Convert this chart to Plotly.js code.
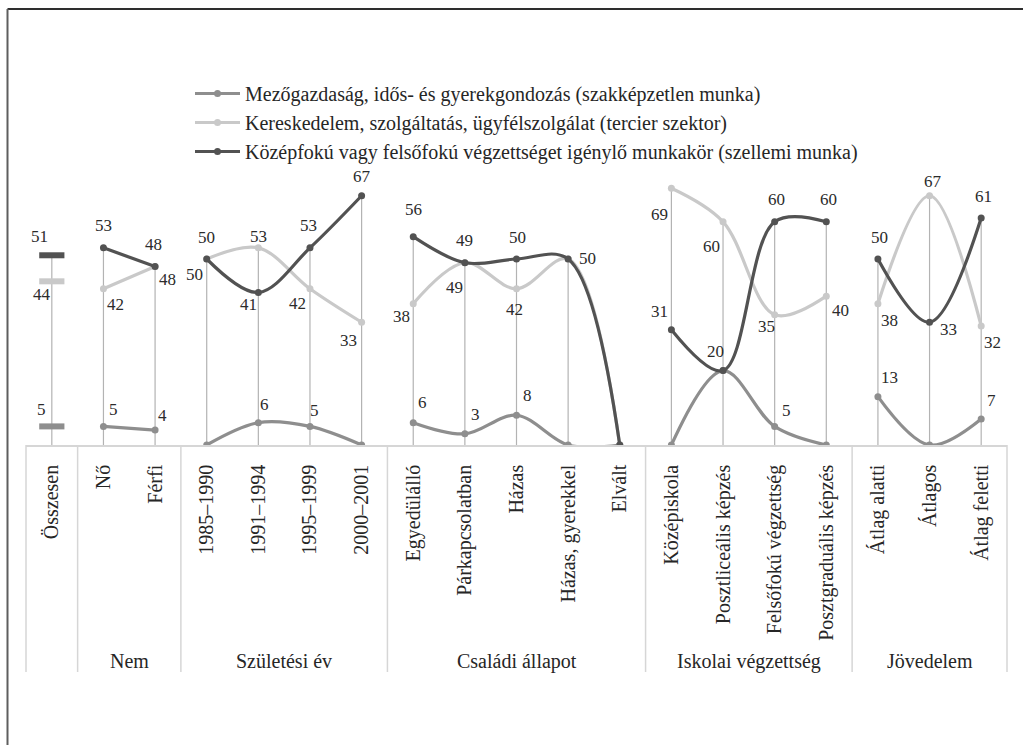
<!DOCTYPE html>
<html>
<head>
<meta charset="utf-8">
<script src="https://cdn.plot.ly/plotly-3.0.1.min.js"></script>
<style>html,body{margin:0;padding:0;background:#fff;}#chart{width:1023px;height:745px;}</style>
</head>
<body>
<div id="chart"></div>
<script>
// ---- data ----
const categories = ['Összesen','Nő','Férfi','1985–1990','1991–1994','1995–1999','2000–2001',
  'Egyedülálló','Párkapcsolatban','Házas','Házas, gyerekkel','Elvált',
  'Középiskola','Posztliceális képzés','Felsőfokú végzettség','Posztgraduális képzés',
  'Átlag alatti','Átlagos','Átlag feletti'];
const groupNames = ['', 'Nem', 'Születési év', 'Családi állapot', 'Iskolai végzettség', 'Jövedelem'];
const groupSizes = [1, 2, 4, 5, 4, 3];
const seriesNames = ['Mezőgazdaság, idős- és gyerekgondozás (szakképzetlen munka)',
  'Kereskedelem, szolgáltatás, ügyfélszolgálat (tercier szektor)',
  'Középfokú vagy felsőfokú végzettséget igénylő munkakör (szellemi munka)'];
const mezo = [5, 5, 4, 0, 6, 5, 0, 6, 3, 8, 0, 0, 0, 20, 5, 0, 13, 0, 7];
const ker  = [44, 42, 48, 50, 53, 42, 33, 38, 49, 42, 50, 0, 69, 60, 35, 40, 38, 67, 32];
const koz  = [51, 53, 48, 50, 41, 53, 67, 56, 49, 50, 50, 0, 31, 20, 60, 60, 50, 33, 61];

// ---- styles (label offsets in px: [dx, dy], null = no label) ----
const mezoLab = [[-10,-17],[10,-17],[7,-15],null,[6,-18],[5,-16],null,[9,-20],[11,-19],[11,-20],null,null,null,null,[12,-16],null,[12,-19],null,[10,-18]];
const kerLab  = [[-10,13],[12,16],[12,13],[0,-22],[0,-11],[-12,15],[-13,18],[-12,13],[-10,25],[-2,21],null,null,[-12,26],[-12,25],[-8,12],[14,14],[12,17],[3,-14],[11,17]];
const kozLab  = [[-12,-19],[0,-22],[-2,-22],[-12,15],[-10,12],[-1,-22],[0,-19],[0,-27],[0,-22],[1,-22],[19,-1],null,[-12,-18],[-8,-19],[2,-22],[2,-22],[2,-22],[19,7],[2,-22]];
const colors = ['#8e8e8e', '#c9c9c9', '#525252'];
const FONT_FAMILY = 'Times New Roman';

const allSeries = [mezo, ker, koz];
const allLabs = [mezoLab, kerLab, kozLab];

const starts = [];
let acc = 0;
groupSizes.forEach(s => { starts.push(acc); acc += s; });

const traces = [];
const dx = [], dy = [];
categories.forEach((c, i) => {
  const m = Math.max(mezo[i], ker[i], koz[i]);
  if (m > 0) { dx.push(i, i, null); dy.push(m, 0, null); }
});
traces.push({x: dx, y: dy, mode: 'lines', line: {color: '#b3b3b3', width: 1.2}, hoverinfo: 'skip', showlegend: false});

allSeries.forEach((vals, s) => {
  const xs = [], ys = [];
  for (let g = 1; g < groupSizes.length; g++) {
    for (let k = 0; k < groupSizes[g]; k++) {
      const i = starts[g] + k;
      xs.push(i); ys.push(vals[i]);
    }
    xs.push(starts[g] + groupSizes[g] - 0.5); ys.push(null);
  }
  traces.push({
    x: xs, y: ys, name: seriesNames[s], mode: 'lines+markers', connectgaps: false,
    line: {color: colors[s], width: 3.2, shape: 'spline', smoothing: 1},
    marker: {color: colors[s], size: 7}, hoverinfo: 'skip'
  });
});
allSeries.forEach((vals, s) => {
  traces.push({
    x: [0], y: [vals[0]], mode: 'markers', showlegend: false, hoverinfo: 'skip',
    marker: {symbol: 'line-ew', size: 18, color: colors[s], line: {color: colors[s], width: 6}}
  });
});

const annotations = [];
allSeries.forEach((vals, s) => {
  vals.forEach((v, i) => {
    const o = allLabs[s][i];
    if (!o) return;
    annotations.push({x: i, y: v, xref: 'x', yref: 'y', text: String(v), showarrow: false,
      xshift: o[0], yshift: -o[1], font: {family: FONT_FAMILY, size: 17, color: '#2b2b2b'}});
  });
});
const plotTop = 166, axisY = 445, plotH = axisY - plotTop;
const py = px => (axisY - px) / plotH;
groupNames.forEach((g, k) => {
  if (!g) return;
  const cx = starts[k] + (groupSizes[k] - 1) / 2;
  annotations.push({x: cx, y: py(661), xref: 'x', yref: 'paper', text: g, showarrow: false,
    yanchor: 'middle', font: {family: FONT_FAMILY, size: 20, color: '#262626'}});
});

const shapes = [];
const sepColor = '#d6d6d6';
shapes.push({type: 'line', xref: 'paper', yref: 'paper', x0: 0, x1: 0, y0: 0, y1: py(672), line: {color: sepColor, width: 1.5}});
shapes.push({type: 'line', xref: 'paper', yref: 'paper', x0: 1, x1: 1, y0: 0, y1: py(672), line: {color: sepColor, width: 1.5}});
for (let k = 1; k < groupSizes.length; k++) {
  const xb = starts[k] - 0.5;
  shapes.push({type: 'line', xref: 'x', yref: 'paper', x0: xb, x1: xb, y0: 0, y1: py(672), line: {color: sepColor, width: 1.5}});
}
const pxX = px => (px - 26) / 981;
shapes.push({type: 'line', xref: 'paper', yref: 'paper', x0: pxX(7.5), x1: pxX(1060), y0: py(9), y1: py(9), line: {color: '#2e2e2e', width: 2}});
shapes.push({type: 'line', xref: 'paper', yref: 'paper', x0: pxX(7.5), x1: pxX(7.5), y0: py(9), y1: py(790), line: {color: '#5e5e5e', width: 2}});

const layout = {
  width: 1023, height: 745,
  margin: {l: 26, r: 16, t: plotTop, b: 745 - axisY, pad: 0, autoexpand: false},
  paper_bgcolor: '#fff', plot_bgcolor: '#fff',
  showlegend: true,
  legend: {xref: 'container', yref: 'container', x: 190/1023, y: 1 - 74/745, xanchor: 'left', yanchor: 'top',
    font: {family: FONT_FAMILY, size: 20, color: '#262626'}, bgcolor: 'rgba(0,0,0,0)', tracegroupgap: 0, itemwidth: 45},
  xaxis: {range: [-0.5, 18.5], tickmode: 'array', tickvals: categories.map((c, i) => i), ticktext: categories,
    tickangle: -90, ticks: '', ticklabelstandoff: 10, showgrid: false, zeroline: false, showline: true, automargin: false,
    linecolor: '#d6d6d6', linewidth: 1.5, tickfont: {family: FONT_FAMILY, size: 20, color: '#262626'}, fixedrange: true},
  yaxis: {range: [0, 75], visible: false, showgrid: false, zeroline: false, fixedrange: true, automargin: false},
  annotations: annotations, shapes: shapes
};
Plotly.newPlot('chart', traces, layout, {displayModeBar: false});
</script>
</body>
</html>
